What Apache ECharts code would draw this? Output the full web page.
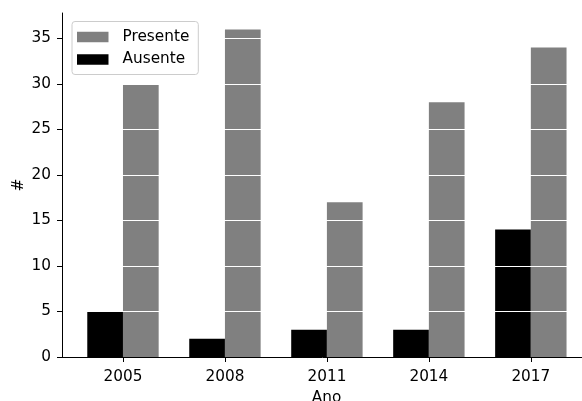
<!DOCTYPE html>
<html>
<head>
<meta charset="utf-8">
<script src="https://cdn.jsdelivr.net/npm/echarts@6/dist/echarts.min.js"></script>
<style>html,body{margin:0;padding:0;background:#fff}#c{width:582px;height:401px}</style>
</head>
<body>
<div id="c"></div>
<script>
const years = [2005, 2008, 2011, 2014, 2017];
const presente = [30, 36, 17, 28, 34];
const ausente = [5, 2, 3, 3, 14];
const yTicks = [0, 5, 10, 15, 20, 25, 30, 35];

const font = 'DejaVu Sans';
const fs = 15.3;
const chart = echarts.init(document.getElementById('c'), null, {renderer: 'canvas'});
chart.setOption({
  animation: false,
  textStyle: {fontFamily: font},
  grid: {left: 62, right: -9, top: 13, bottom: 44, containLabel: false, outerBoundsMode: 'none'},
  legend: {
    data: ['Presente', 'Ausente'],
    orient: 'vertical',
    left: 72, top: 21.5,
    itemWidth: 31.5, itemHeight: 10.5, itemGap: 7.5,
    padding: [8, 9, 7.5, 5],
    borderColor: '#cccccc', borderWidth: 1, borderRadius: 3,
    backgroundColor: 'rgba(255,255,255,0.8)',
    icon: 'rect',
    textStyle: {fontFamily: font, fontSize: fs, color: '#000', padding: [0, 0, 0, 9]}
  },
  xAxis: {
    type: 'value', min: 2003.206, max: 2018.77, z: 4,
    name: 'Ano', nameLocation: 'middle', nameGap: 34, nameMoveOverlap: false,
    nameTextStyle: {fontFamily: font, fontSize: fs, color: '#000'},
    axisLine: {show: true, lineStyle: {color: '#000', width: 1}},
    axisTick: {show: true, length: 5, customValues: years, lineStyle: {color: '#000'}},
    axisLabel: {customValues: years, margin: 12.5, fontFamily: font, fontSize: fs, color: '#000',
      formatter: v => String(v)},
    splitLine: {show: false}
  },
  yAxis: {
    type: 'value', min: 0, max: 37.8, interval: 5, z: 3,
    name: '#', nameLocation: 'middle', nameGap: 35.5, nameMoveOverlap: false,
    nameTextStyle: {fontFamily: font, fontSize: fs, color: '#000'},
    axisLine: {show: true, lineStyle: {color: '#000', width: 1}},
    axisTick: {show: true, length: 5, lineStyle: {color: '#000'}},
    axisLabel: {margin: 11, fontFamily: font, fontSize: fs, color: '#000', showMaxLabel: false},
    splitLine: {show: true, lineStyle: {color: '#ffffff', width: 1.1}}
  },
  series: [
    {name: 'Ausente', type: 'bar', barWidth: 35.7, barGap: '0%',
      itemStyle: {color: '#000000'},
      data: years.map((y, i) => [y, ausente[i]])},
    {name: 'Presente', type: 'bar', barWidth: 35.7, barGap: '0%',
      itemStyle: {color: '#808080'},
      data: years.map((y, i) => [y, presente[i]])}
  ]
});
</script>
</body>
</html>
